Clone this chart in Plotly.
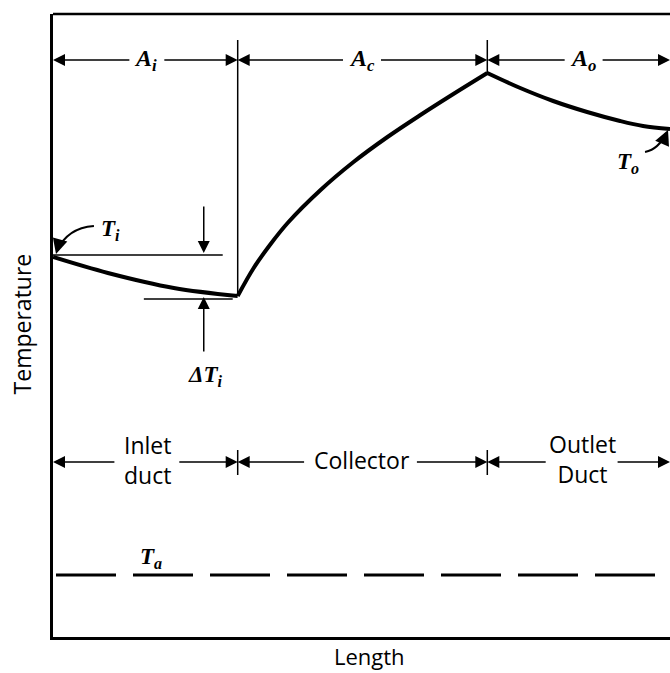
import plotly.graph_objects as go

# Length (x) and Temperature (y) in arbitrary units
inlet_x = [0, 55, 121, 185]
inlet_y = [380, 364, 349, 341]
collector_x = [185, 201, 218, 235, 268, 301, 335, 368, 401, 435]
collector_y = [341, 369, 393, 414, 447, 475, 500, 522, 543, 564]
outlet_x = [435, 468, 501, 535, 568, 591, 618]
outlet_y = [564, 549, 536, 525, 516, 511, 508]
ambient_x = [3, 618]
ambient_y = [62, 62]

# section boundaries along length
x_start, x_ci, x_co, x_end = 0, 185, 435, 618
X_MAX, Y_MAX = 618, 623

SERIF = "Liberation Serif"
SANS = "Open Sans"

fig = go.Figure()
line_style = dict(color="black", width=4)
for xs, ys in [(inlet_x, inlet_y), (collector_x, collector_y), (outlet_x, outlet_y)]:
    fig.add_trace(go.Scatter(x=xs, y=ys, mode="lines",
                             line=dict(line_style, shape="spline", smoothing=1.0),
                             hoverinfo="skip"))
fig.add_trace(go.Scatter(x=ambient_x, y=ambient_y, mode="lines",
                         line=dict(color="black", width=3, dash="60px,17px"), hoverinfo="skip"))

shapes = []
def seg(x0, y0, x1, y1, w=1.5):
    shapes.append(dict(type="line", xref="x", yref="y", x0=x0, y0=y0, x1=x1, y1=y1,
                       line=dict(color="black", width=w)))

# top border
shapes.append(dict(type="line", xref="paper", yref="paper", x0=0, x1=1, y0=1, y1=1,
                   line=dict(color="black", width=2.5)))
# vertical separators
seg(x_ci, 597, x_ci, inlet_y[-1])
seg(x_co, 597, x_co, collector_y[-1])
seg(x_ci, 187, x_ci, 162)
seg(x_co, 187, x_co, 162)
# delta T lines
seg(0, 382, 170, 382)
seg(91, 338, 180, 338)
# curved pointer arrows
shapes.append(dict(type="path", xref="x", yref="y", path="M 41 411 Q 14 409 4 386",
                   line=dict(color="black", width=2)))
shapes.append(dict(type="path", xref="x", yref="y", path="M 593 485 Q 607 488 614 504",
                   line=dict(color="black", width=2)))

ann = []
def arrow(x0, y0, x1, y1, w=1.5, size=1.6):
    ann.append(dict(x=x1, y=y1, ax=x0, ay=y0, xref="x", yref="y", axref="x", ayref="y",
                    text="", showarrow=True, arrowhead=2, arrowsize=size, arrowwidth=w,
                    arrowcolor="black"))

def label(x, y, text, font, size, **kw):
    ann.append(dict(x=x, y=y, xref="x", yref="y", text=text, showarrow=False,
                    font=dict(family=font, size=size, color="black"), **kw))

# top dimension line
yt = 577
arrow(78, yt, x_start, yt); arrow(110, yt, x_ci, yt)
arrow(292, yt, x_ci, yt); arrow(327, yt, x_co, yt)
arrow(514, yt, x_co, yt); arrow(549, yt, x_end, yt)
label(93, yt, "<b><i>A<sub>i</sub></i></b>", SERIF, 24)
label(309, yt, "<b><i>A<sub>c</sub></i></b>", SERIF, 24)
label(531, yt, "<b><i>A<sub>o</sub></i></b>", SERIF, 24)

# bottom dimension line
yb = 175
arrow(63, yb, x_start, yb); arrow(125, yb, x_ci, yb)
arrow(253, yb, x_ci, yb); arrow(363, yb, x_co, yb)
arrow(495, yb, x_co, yb); arrow(564, yb, x_end, yb)
label(95, yb + 2, "Inlet<br>duct", SANS, 23)
label(309, yb + 2, "Collector", SANS, 23)
label(530, yb + 3, "Outlet<br>Duct", SANS, 23)

# delta T arrows
arrow(151, 432, 151, 384)
arrow(151, 284, 151, 340)
label(152, 261, "<b><i>ΔT<sub>i</sub></i></b>", SERIF, 23)

# point labels
label(58, 407, "<b><i>T<sub>i</sub></i></b>", SERIF, 23)
label(576, 474, "<b><i>T<sub>o</sub></i></b>", SERIF, 23)
label(98, 79, "<b><i>T<sub>a</sub></i></b>", SERIF, 23)
# arrowheads of curved pointers
ann.append(dict(x=3, y=383, ax=5, ay=390, xref="x", yref="y", axref="x", ayref="y", text="",
                showarrow=True, arrowhead=2, arrowsize=1.5, arrowwidth=2, arrowcolor="black"))
ann.append(dict(x=616, y=507, ax=613, ay=500, xref="x", yref="y", axref="x", ayref="y", text="",
                showarrow=True, arrowhead=2, arrowsize=1.5, arrowwidth=2, arrowcolor="black"))

# axis titles (paper coordinates, outside the plotting area)
ann.append(dict(x=-0.05, y=0.502, xref="paper", yref="paper", text="Temperature", textangle=-90,
                xanchor="center", yanchor="middle",
                showarrow=False, font=dict(family=SANS, size=23, color="black")))
ann.append(dict(x=0.513, y=-0.0305, xref="paper", yref="paper", text="Length",
                xanchor="center", yanchor="middle",
                showarrow=False, font=dict(family=SANS, size=22, color="black")))

fig.update_layout(
    width=670, height=673,
    margin=dict(l=53, r=0, t=14, b=36),
    paper_bgcolor="white", plot_bgcolor="white",
    showlegend=False,
    shapes=shapes, annotations=ann,
    xaxis=dict(range=[0, X_MAX], showgrid=False, zeroline=False, showticklabels=False,
               ticks="", showline=True, linecolor="black", linewidth=2.5, fixedrange=True),
    yaxis=dict(range=[0, Y_MAX], showgrid=False, zeroline=False, showticklabels=False,
               ticks="", showline=True, linecolor="black", linewidth=2.5, fixedrange=True),
)
fig.write_html("out.html")
